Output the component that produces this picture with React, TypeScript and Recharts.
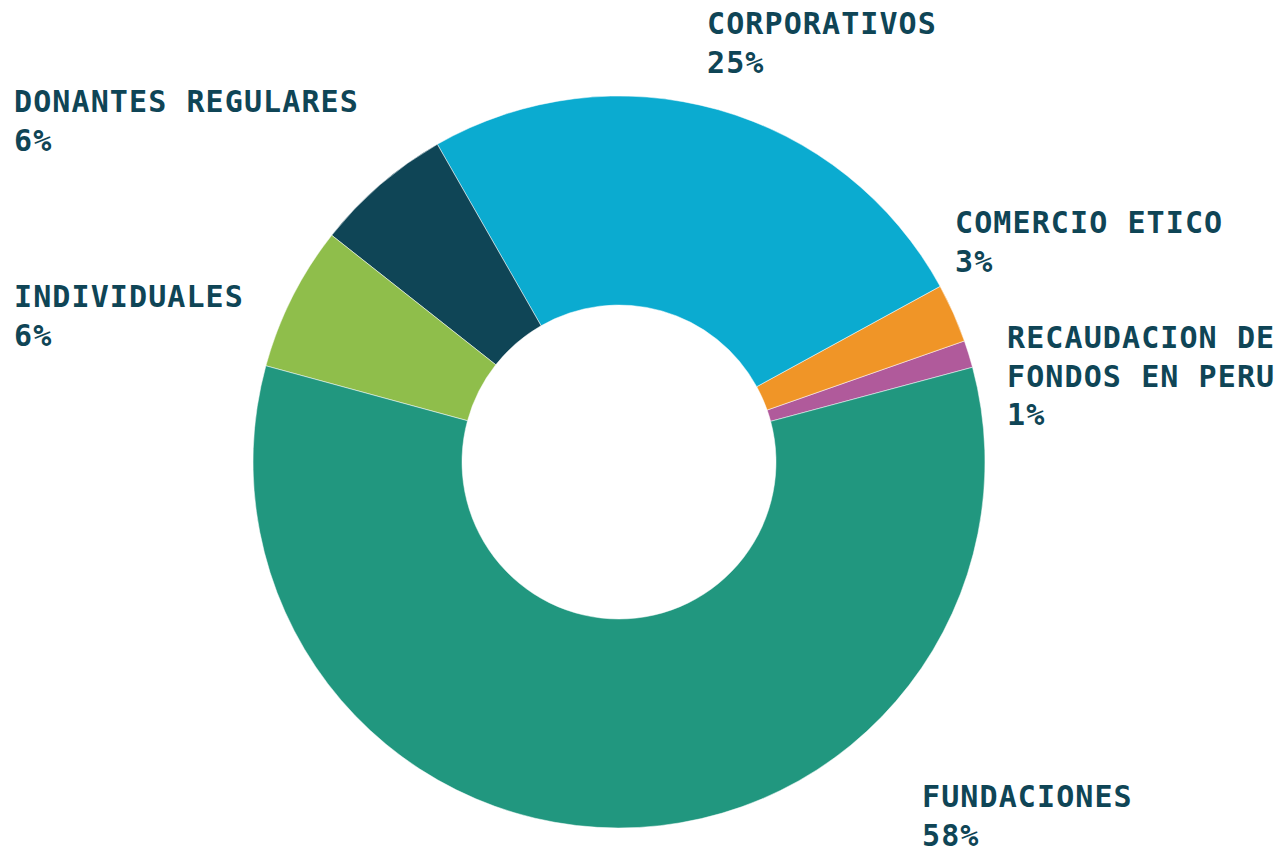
import { PieChart, Pie, Cell } from "recharts";

// order: counter-clockwise starting at ~15deg (3 o'clock = 0)
const categories = [
  ["RECAUDACION DE", "FONDOS EN PERU"],
  ["COMERCIO ETICO"],
  ["CORPORATIVOS"],
  ["DONANTES REGULARES"],
  ["INDIVIDUALES"],
  ["FUNDACIONES"],
];
const values = [1.2, 2.6, 25.3, 6.1, 6.4, 58.4];
const percentLabels = ["1%", "3%", "25%", "6%", "6%", "58%"];
const colors = ["#B05A9B", "#F09527", "#0BABD0", "#0F4556", "#8FBE4B", "#21977F"];

// label placement (x, first baseline)
const labelPos = [
  [1007, 348],
  [955, 233],
  [707, 34],
  [14, 112],
  [14, 307],
  [922, 807],
];

const data = categories.map((c, i) => ({ name: c.join(" "), value: values[i] }));

const LINE_H = 38.5;

function renderLabel(props: any) {
  const i = props.index;
  const [x, y] = labelPos[i];
  const lines = [...categories[i], percentLabels[i]];
  return (
    <text
      key={i}
      x={x}
      y={y}
      fill="#0F4556"
      fontFamily="'DejaVu Sans Mono', monospace"
      fontWeight="bold"
      fontSize={30}
      letterSpacing={1.1}
      textAnchor="start"
    >
      {lines.map((l, k) => (
        <tspan key={k} x={x} y={y + k * LINE_H}>
          {l}
        </tspan>
      ))}
    </text>
  );
}

export default function App() {
  return (
    <div style={{ position: "absolute", left: 0, top: 0, background: "#fff" }}>
      <PieChart width={1276} height={851} margin={{ top: 0, right: 0, bottom: 0, left: 0 }}>
        <Pie
          data={data}
          dataKey="value"
          cx={619}
          cy={462}
          innerRadius={157}
          outerRadius={366}
          startAngle={15}
          endAngle={375}
          stroke="#fff"
          strokeWidth={0.5}
          label={renderLabel}
          labelLine={false}
          isAnimationActive={false}
        >
          {data.map((d, i) => (
            <Cell key={d.name} fill={colors[i]} />
          ))}
        </Pie>
      </PieChart>
    </div>
  );
}
